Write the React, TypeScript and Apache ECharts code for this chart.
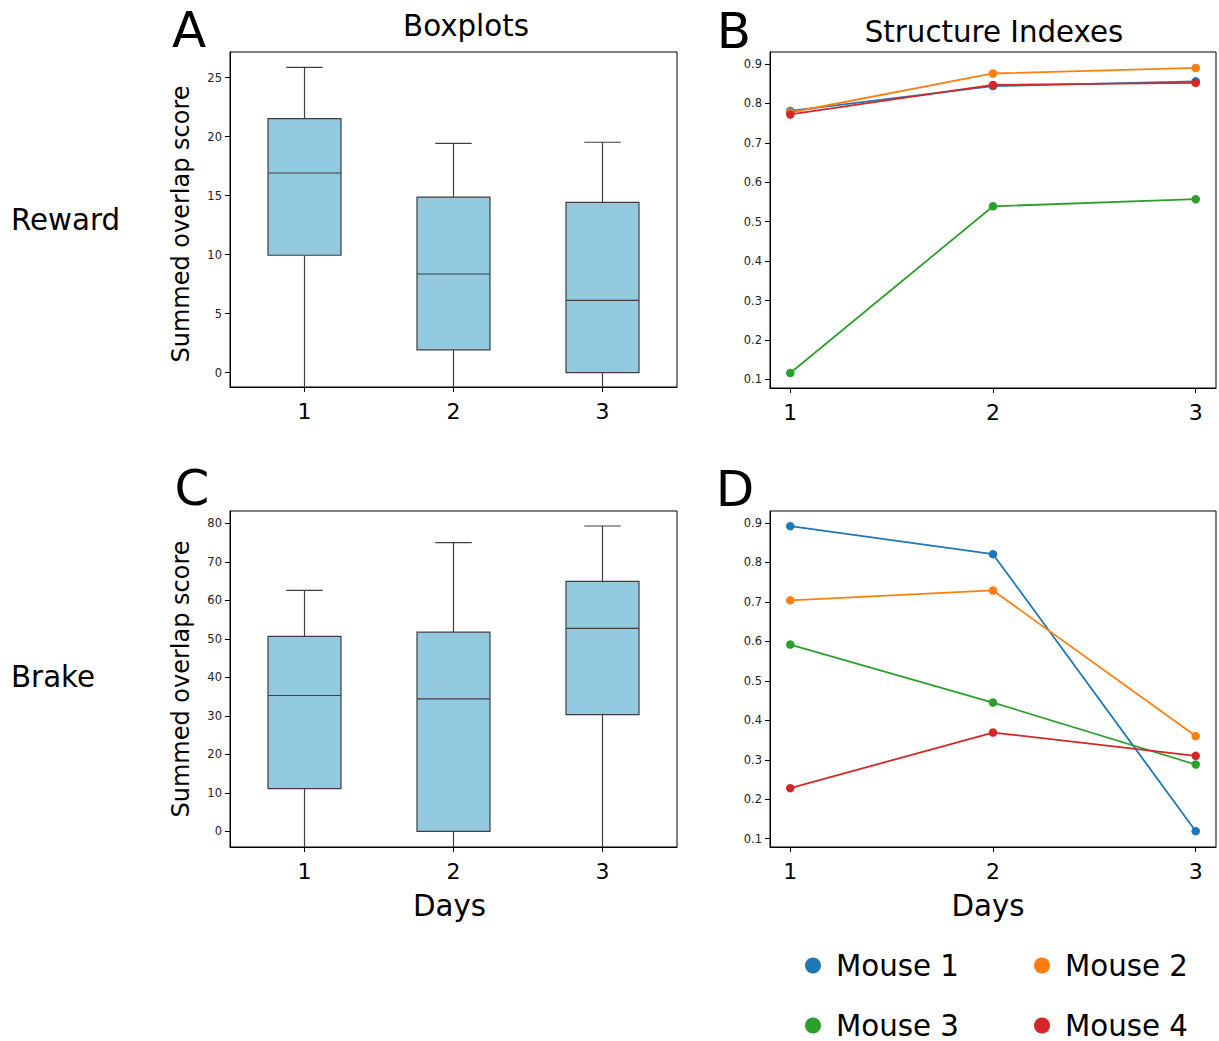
import React, { useEffect, useRef } from 'react';
import * as echarts from 'echarts';

// ---------- data ----------
const days = ['1', '2', '3'];
const dayValues = [1, 2, 3];

// Reward boxplots (A): lower whisker runs past the axis bottom
const rewardLow = [-1.5, -1.5, -1.5];
const rewardQ1 = [9.95, 1.93, 0.0];
const rewardMedian = [16.92, 8.36, 6.12];
const rewardQ3 = [21.54, 14.88, 14.43];
const rewardHigh = [25.88, 19.44, 19.53];

// Brake boxplots (C)
const brakeLow = [-5, -5, -5];
const brakeQ1 = [11.09, 0.0, 30.34];
const brakeMedian = [35.28, 34.41, 52.7];
const brakeQ3 = [50.62, 51.74, 64.92];
const brakeHigh = [62.58, 74.97, 79.31];

const mice = ['Mouse 1', 'Mouse 2', 'Mouse 3', 'Mouse 4'];
const mouseColors = ['#1f77b4', '#ff7f0e', '#2ca02c', '#d62728'];

// Structure indexes (B: reward, D: brake), one row per mouse, days 1..3
const rewardSI1 = [0.781, 0.844, 0.856];
const rewardSI2 = [0.777, 0.876, 0.89];
const rewardSI3 = [0.116, 0.539, 0.557];
const rewardSI4 = [0.772, 0.847, 0.852];
const brakeSI1 = [0.892, 0.821, 0.119];
const brakeSI2 = [0.704, 0.729, 0.36];
const brakeSI3 = [0.592, 0.445, 0.288];
const brakeSI4 = [0.228, 0.369, 0.31];

const rewardTicks = [0, 5, 10, 15, 20, 25];
const brakeTicks = [0, 10, 20, 30, 40, 50, 60, 70, 80];
const siTicks = [0.1, 0.2, 0.3, 0.4, 0.5, 0.6, 0.7, 0.8, 0.9];

const FONT = 'DejaVu Sans';
const BIG = 29.3;
const BOX_FILL = '#93c9de';
const BOX_LINE = '#3f3f3f';

function boxRender(params: any, api: any) {
  const x = api.value(0);
  const pLow = api.coord([x, api.value(1)]);
  const pQ1 = api.coord([x, api.value(2)]);
  const pMed = api.coord([x, api.value(3)]);
  const pQ3 = api.coord([x, api.value(4)]);
  const pHigh = api.coord([x, api.value(5)]);
  const half = api.size([1, 0])[0] * 0.245;
  const capHalf = half / 2;
  const cx = pLow[0];
  const ls = { stroke: BOX_LINE, lineWidth: 1.2 };
  return {
    type: 'group',
    children: [
      { type: 'line', shape: { x1: cx, y1: pLow[1], x2: cx, y2: pQ1[1] }, style: ls },
      { type: 'line', shape: { x1: cx, y1: pQ3[1], x2: cx, y2: pHigh[1] }, style: ls },
      { type: 'line', shape: { x1: cx - capHalf, y1: pLow[1], x2: cx + capHalf, y2: pLow[1] }, style: ls },
      { type: 'line', shape: { x1: cx - capHalf, y1: pHigh[1], x2: cx + capHalf, y2: pHigh[1] }, style: ls },
      {
        type: 'rect',
        shape: { x: cx - half, y: pQ3[1], width: 2 * half, height: pQ1[1] - pQ3[1] },
        style: { fill: BOX_FILL, stroke: BOX_LINE, lineWidth: 1.2 },
      },
      { type: 'line', shape: { x1: cx - half, y1: pMed[1], x2: cx + half, y2: pMed[1] }, style: ls },
    ],
  };
}

function catXAxis(gridIndex: number, name?: string) {
  return {
    type: 'category',
    gridIndex,
    data: days,
    boundaryGap: true,
    name: name || '',
    nameLocation: 'middle',
    nameGap: 44,
    nameTextStyle: { fontSize: BIG, color: '#000', fontFamily: FONT, padding: [0, 8, 0, 0] },
    axisLine: { show: true, onZero: false, lineStyle: { color: '#000', width: 1 } },
    axisTick: { show: true, alignWithLabel: true, length: 5, lineStyle: { color: '#000' } },
    axisLabel: { fontSize: 22, color: '#000', fontFamily: FONT, margin: 13 },
    splitLine: { show: false },
  };
}

function dayValueXAxis(gridIndex: number, name?: string) {
  return {
    type: 'value',
    gridIndex,
    min: 0.9,
    max: 3.1,
    name: name || '',
    nameLocation: 'middle',
    nameGap: 44,
    nameTextStyle: { fontSize: BIG, color: '#000', fontFamily: FONT, padding: [0, 10, 0, 0] },
    axisLine: { show: true, onZero: false, lineStyle: { color: '#000', width: 1 } },
    axisTick: { show: true, length: 5, customValues: dayValues, lineStyle: { color: '#000' } },
    axisLabel: {
      fontSize: 22,
      color: '#000',
      fontFamily: FONT,
      margin: 13,
      customValues: dayValues,
      formatter: (v: number) => String(Math.round(v)),
    },
    splitLine: { show: false },
  };
}

function valueYAxis(
  gridIndex: number,
  min: number,
  max: number,
  ticks: number[],
  name: string,
  fmt?: (v: number) => string,
  namePadding?: number[]
) {
  return {
    type: 'value',
    gridIndex,
    min,
    max,
    name,
    nameLocation: 'middle',
    nameGap: 37,
    nameTextStyle: { fontSize: 24, color: '#000', fontFamily: FONT, padding: namePadding || 0 },
    axisLine: { show: true, onZero: false, lineStyle: { color: '#000', width: 1 } },
    axisTick: { show: true, length: 5, customValues: ticks, lineStyle: { color: '#000' } },
    axisLabel: {
      fontSize: 11.5,
      color: '#222',
      fontFamily: FONT,
      margin: 8,
      customValues: ticks,
      formatter: fmt || ((v: number) => String(v)),
    },
    splitLine: { show: false },
  };
}

function lineSeries(name: string, color: string, values: number[], axisIndex: number) {
  return {
    type: 'line',
    name,
    xAxisIndex: axisIndex,
    yAxisIndex: axisIndex,
    data: dayValues.map((d, i) => [d, values[i]]),
    symbol: 'circle',
    symbolSize: 8.5,
    showSymbol: true,
    color,
    itemStyle: { color },
    lineStyle: { color, width: 1.8 },
    emphasis: { disabled: true },
  };
}

function textEl(text: string, x: number, y: number, size: number, align = 'center', lineHeight?: number) {
  return {
    type: 'text',
    x,
    y,
    style: {
      text,
      fontSize: size,
      fontFamily: FONT,
      fill: '#000',
      align,
      verticalAlign: 'middle',
      lineHeight: lineHeight || size,
    },
  };
}

export default function App() {
  const ref = useRef<HTMLDivElement>(null);

  useEffect(() => {
    if (!ref.current) return;
    const chart = echarts.init(ref.current, null, { renderer: 'svg' });
    const fmt1 = (v: number) => v.toFixed(1);
    const gridBase = {
      show: true,
      borderColor: '#000',
      borderWidth: 1,
      backgroundColor: 'transparent',
      containLabel: false,
      outerBoundsMode: 'none',
    };

    const rewardSI = [rewardSI1, rewardSI2, rewardSI3, rewardSI4];
    const brakeSI = [brakeSI1, brakeSI2, brakeSI3, brakeSI4];

    const option: any = {
      animation: false,
      backgroundColor: '#fff',
      textStyle: { fontFamily: FONT },
      grid: [
        { ...gridBase, left: 230, top: 52, width: 447, height: 335 },
        { ...gridBase, left: 770, top: 52, width: 446, height: 336 },
        { ...gridBase, left: 230, top: 511, width: 447, height: 336 },
        { ...gridBase, left: 770, top: 511, width: 446, height: 336 },
      ],
      xAxis: [catXAxis(0), dayValueXAxis(1), catXAxis(2, 'Days'), dayValueXAxis(3, 'Days')],
      yAxis: [
        valueYAxis(0, -1.22, 27.18, rewardTicks, 'Summed overlap score', undefined, [0, 9, 0, 0]),
        valueYAxis(1, 0.078, 0.9305, siTicks, '', fmt1),
        valueYAxis(2, -4.07, 83.21, brakeTicks, 'Summed overlap score'),
        valueYAxis(3, 0.0789, 0.9304, siTicks, '', fmt1),
      ],
      legend: mice.map((m, i) => ({
        data: [m],
        left: i % 2 === 0 ? 805 : 1034,
        top: i < 2 ? 951 : 1011,
        orient: 'horizontal',
        icon: 'circle',
        itemWidth: 16,
        itemHeight: 16,
        padding: 0,
        selectedMode: false,
        textStyle: {
          fontSize: BIG,
          fontFamily: FONT,
          color: '#000',
          padding: [0, 0, 0, 10],
        },
      })),
      graphic: [
        textEl('A', 189, 30, 50, 'center', 38),
        textEl('B', 734, 31, 50, 'center', 38),
        textEl('C', 192, 488, 50, 'center', 38),
        textEl('D', 735, 489, 50, 'center', 38),
        textEl('Boxplots', 466, 26, BIG),
        textEl('Structure Indexes', 994, 32, BIG),
        textEl('Reward', 11, 220, BIG, 'left'),
        textEl('Brake', 11, 677, BIG, 'left'),
      ],
      series: [
        {
          type: 'custom',
          name: 'Reward boxplot',
          xAxisIndex: 0,
          yAxisIndex: 0,
          clip: true,
          renderItem: boxRender,
          encode: { x: 0, y: [1, 2, 3, 4, 5] },
          data: days.map((_, i) => [i, rewardLow[i], rewardQ1[i], rewardMedian[i], rewardQ3[i], rewardHigh[i]]),
        },
        {
          type: 'custom',
          name: 'Brake boxplot',
          xAxisIndex: 2,
          yAxisIndex: 2,
          clip: true,
          renderItem: boxRender,
          encode: { x: 0, y: [1, 2, 3, 4, 5] },
          data: days.map((_, i) => [i, brakeLow[i], brakeQ1[i], brakeMedian[i], brakeQ3[i], brakeHigh[i]]),
        },
        ...mice.map((m, i) => lineSeries(m, mouseColors[i], rewardSI[i], 1)),
        ...mice.map((m, i) => lineSeries(m, mouseColors[i], brakeSI[i], 3)),
      ],
    };

    chart.setOption(option);
    return () => chart.dispose();
  }, []);

  return (
    <div
      ref={ref}
      style={{ position: 'fixed', left: 0, top: 0, width: 1219, height: 1041, background: '#fff' }}
    />
  );
}
